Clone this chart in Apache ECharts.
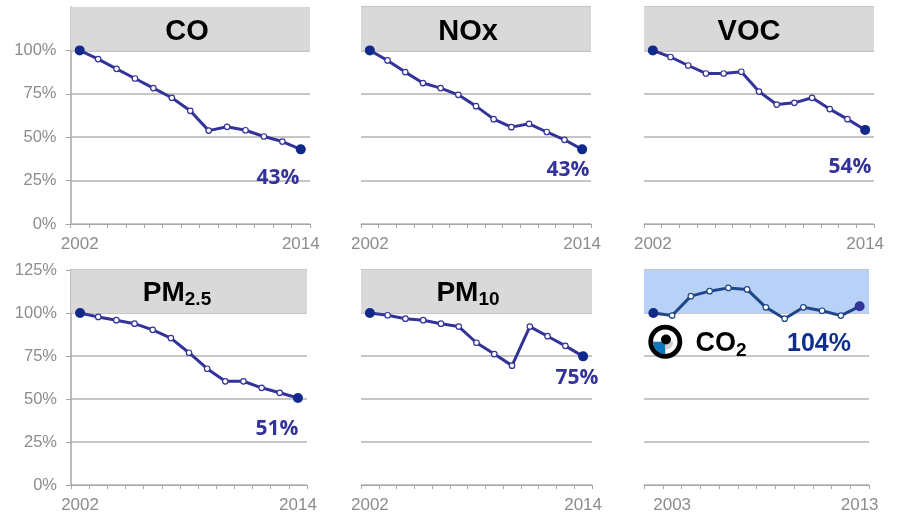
<!DOCTYPE html>
<html>
<head>
<meta charset="utf-8">
<style>
html,body{margin:0;padding:0;background:#fff;}
#main{width:897px;height:514px;}
</style>
<script src="https://cdn.jsdelivr.net/npm/echarts@6/dist/echarts.min.js"></script>
</head>
<body>
<div id="main"></div>
<script>
var years = ['2002','2003','2004','2005','2006','2007','2008','2009','2010','2011','2012','2013','2014'];
var co2Years = ['2002','2003','2004','2005','2006','2007','2008','2009','2010','2011','2012','2013'];

var coValues = [100,95,89.4,83.8,78.3,72.7,65.2,53.8,56,54,50.4,47.5,43];
var noxValues = [100,94.2,87.5,81.2,78.3,74.4,67.9,60.4,55.8,57.7,53,48.5,43];
var vocValues = [100,96.2,91.3,86.7,86.7,87.7,76.3,68.8,69.8,72.7,66.2,60.4,54.2];
var pm25Values = [100,97.7,95.8,93.8,90.2,85.4,76.9,67.6,60.3,60.3,56.5,53.6,50.6];
var pm10Values = [100,98.7,96.7,95.8,93.8,92.1,82.7,76.1,69.4,92.1,86.5,80.9,74.8];
var co2Values = [100,98.5,109.8,112.7,114.6,113.7,103.3,96.7,103.3,101.3,98.5,103.9];

var labelFont = '"Liberation Sans",Arial,sans-serif';
var pctFont = '"Open Sans",sans-serif';
var gridColor = '#b3b3b3';
var axisColor = '#a6a6a6';
var textColor = '#8c8c8c';

var panels = [
	{left:70.5,right:310,top:7,bottom:224,margin:12,data:coValues,cats:years,shown:['2002','2014'],yLabels:true,yAxisLine:true,no125:true,
		title:'CO',titleX:187,titleY:32,pct:'43%',pctX:278,pctY:178},
	{left:361,right:591,top:7,bottom:224,margin:12,data:noxValues,cats:years,shown:['2002','2014'],
		title:'NOx',titleX:468,titleY:32,pct:'43%',pctX:568,pctY:170},
	{left:644,right:874,top:7,bottom:224,margin:12,data:vocValues,cats:years,shown:['2002','2014'],
		title:'VOC',titleX:749,titleY:32,pct:'54%',pctX:850,pctY:167},
	{left:71,right:307,top:270,bottom:486,margin:12,data:pm25Values,cats:years,shown:['2002','2014'],yLabels:true,yAxisLine:true,
		title:'{b|PM}{s|2.5}',titleX:177,titleY:293,pct:'51%',pctX:277,pctY:429},
	{left:361,right:592,top:270,bottom:486,margin:12,data:pm10Values,cats:years,shown:['2002','2014'],
		title:'{b|PM}{s|10}',titleX:468,titleY:293,pct:'75%',pctX:577,pctY:378},
	{left:644,right:869,top:270,bottom:486,margin:12,data:co2Values,cats:co2Years,shown:['2003','2013'],co2:true,
		title:'{c|CO}{d|2}',titleX:721,titleY:344,pct:'104%',pctX:819,pctY:344}
];

var grids = [], xAxes = [], yAxes = [], series = [], titles = [];

function pointData(p){
	var lineColor = p.co2 ? '#1f4788' : '#333399';
	return p.data.map(function(v,i){
		var last = i == p.data.length-1;
		if(i == 0 || last){
			var c = (p.co2 && last) ? '#333399' : '#0f2a8a';
			return {value:v,symbolSize:10,itemStyle:{color:c,borderColor:c,borderWidth:0}};
		}
		return {value:v,symbolSize:5.5,itemStyle:{color:'#fff',borderColor:lineColor,borderWidth:1.2}};
	});
}

panels.forEach(function(p,i){
	grids.push({left:p.left,top:p.top,width:p.right-p.left,height:p.bottom-p.top});
	xAxes.push({
		type:'category',gridIndex:i,data:p.cats,boundaryGap:true,
		axisLine:{show:true,lineStyle:{color:axisColor,width:1}},
		axisTick:{show:true,length:4,interval:0,lineStyle:{color:axisColor,width:1}},
		axisLabel:{
			margin:p.margin,color:textColor,fontFamily:labelFont,fontSize:17,hideOverlap:false,
			interval:function(idx,val){ return p.shown.indexOf(val) >= 0; }
		},
		splitLine:{show:false}
	});
	yAxes.push({
		type:'value',gridIndex:i,min:0,max:125,interval:25,
		axisLine:{show:!!p.yAxisLine,lineStyle:{color:axisColor,width:1.5}},
		axisTick:{
			show:!!p.yAxisLine,length:5,lineStyle:{color:axisColor,width:1},
			customValues:p.no125 ? [0,25,50,75,100] : [0,25,50,75,100,125]
		},
		axisLabel:{
			show:!!p.yLabels,margin:14,color:textColor,fontFamily:labelFont,fontSize:16.5,
			formatter:function(v){ return (p.no125 && v == 125) ? '' : v+'%'; }
		},
		splitLine:{show:true,lineStyle:{color:gridColor,width:1.5}}
	});
	series.push({
		type:'line',xAxisIndex:i,yAxisIndex:i,data:pointData(p),
		symbol:'circle',showAllSymbol:true,silent:true,
		lineStyle:{color:p.co2 ? '#1f4788' : '#333399',width:3},
		markArea:{
			silent:true,
			itemStyle:{color:p.co2 ? '#b7d1f7' : '#d9d9d9'},
			data:[[{yAxis:100},{yAxis:125}]]
		},
		z:3
	});
	titles.push({
		text:p.title,left:p.titleX,top:p.titleY,textAlign:'center',textVerticalAlign:'middle',padding:0,
		textStyle:{
			fontFamily:labelFont,fontWeight:'bold',fontSize:29,color:'#000',
			rich:{
				b:{fontFamily:labelFont,fontWeight:'bold',fontSize:28,color:'#000'},
				s:{fontFamily:labelFont,fontWeight:'bold',fontSize:19,color:'#000',verticalAlign:'bottom',padding:[14,0,0,0]},
				c:{fontFamily:labelFont,fontWeight:'bold',fontSize:27,color:'#000'},
				d:{fontFamily:labelFont,fontWeight:'bold',fontSize:19,color:'#000',verticalAlign:'bottom',padding:[14,0,0,0]}
			}
		}
	});
	titles.push({
		text:p.pct,left:p.pctX,top:p.pctY,textAlign:'center',textVerticalAlign:'middle',padding:0,
		textStyle:p.co2
			? {fontFamily:labelFont,fontWeight:'bold',fontSize:25,color:'#0f2f8f'}
			: {fontFamily:pctFont,fontWeight:'bold',fontSize:21,color:'#333399'}
	});
});

var chart = echarts.init(document.getElementById('main'),null,{renderer:'canvas'});
chart.setOption({
	animation:false,
	backgroundColor:'#fff',
	title:titles,
	grid:grids,
	xAxis:xAxes,
	yAxis:yAxes,
	series:series,
	graphic:[
		{type:'circle',shape:{cx:665.3,cy:341.7,r:14.6},style:{fill:'#fff',stroke:'#000',lineWidth:4.8},z:10},
		{type:'sector',shape:{cx:665.3,cy:341.7,r:12.3,r0:0,startAngle:Math.PI/2,endAngle:Math.PI},style:{fill:'#0f75bd'},z:11},
		{type:'sector',shape:{cx:665.3,cy:341.7,r:8,r0:0,startAngle:0,endAngle:Math.PI/2},style:{fill:'#cfcfcf'},z:11},
		{type:'circle',shape:{cx:666,cy:339.5,r:5},style:{fill:'#000'},z:12}
	]
});
</script>
</body>
</html>
